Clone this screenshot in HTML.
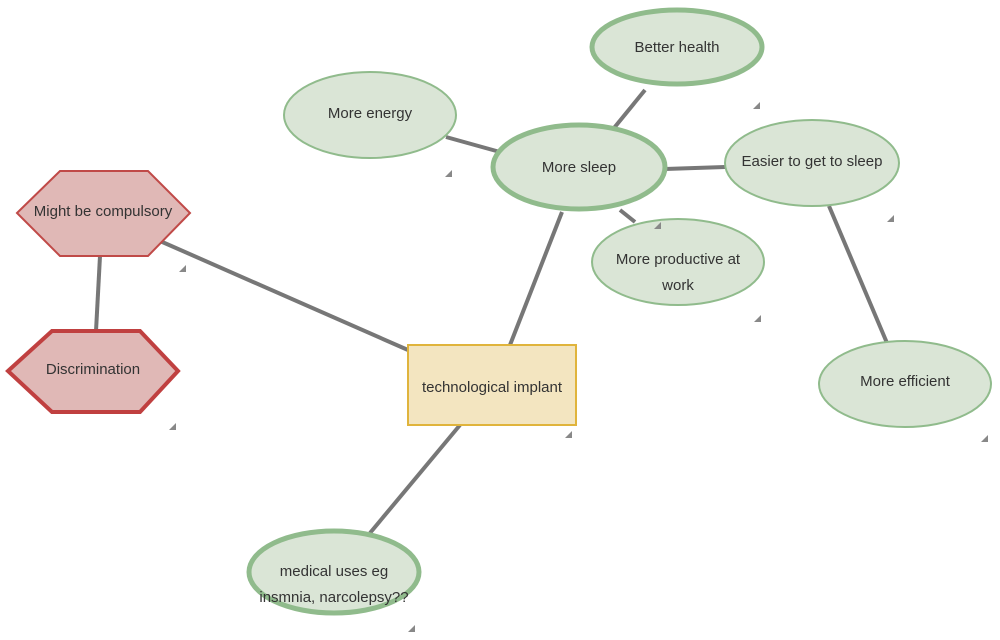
<!DOCTYPE html>
<html><head><meta charset="utf-8"><style>body{margin:0;background:#fff}svg{display:block}text{font-family:"Liberation Sans",sans-serif;font-size:15px;fill:#333;text-anchor:middle}</style></head><body>
<svg width="1000" height="640" viewBox="0 0 1000 640">
<g stroke="#777" stroke-width="4">
<line x1="160" y1="241" x2="408" y2="350"/>
<line x1="100" y1="256" x2="96" y2="331"/>
<line x1="510" y1="345" x2="562" y2="212"/>
<line x1="460" y1="425" x2="370" y2="533"/>
<line x1="446" y1="137" x2="500" y2="152"/>
<line x1="614" y1="128" x2="645" y2="90"/>
<line x1="665" y1="169" x2="725" y2="167"/>
<line x1="620" y1="210" x2="635" y2="222"/>
<line x1="829" y1="206" x2="887" y2="343"/>
</g>
<g fill="#dae5d6" stroke="#90bb8c">
<ellipse cx="677" cy="47" rx="85" ry="37" stroke-width="5"/>
<ellipse cx="370" cy="115" rx="86" ry="43" stroke-width="2"/>
<ellipse cx="579" cy="167" rx="86" ry="42" stroke-width="5"/>
<ellipse cx="812" cy="163" rx="87" ry="43" stroke-width="2"/>
<ellipse cx="678" cy="262" rx="86" ry="43" stroke-width="2"/>
<ellipse cx="905" cy="384" rx="86" ry="43" stroke-width="2"/>
<ellipse cx="334" cy="572" rx="85" ry="41" stroke-width="5"/>
</g>
<rect x="408" y="345" width="168" height="80" fill="#f3e5c0" stroke="#e0b43c" stroke-width="2"/>
<polygon points="17,213 60,171 148,171 190,213 148,256 60,256" fill="#e0b8b6" stroke="#c04a48" stroke-width="2"/>
<polygon points="8,371 52,331 140,331 178,371 140,412 52,412" fill="#e0b8b6" stroke="#c04040" stroke-width="4"/>
<g fill="#888">
<polygon points="760,102 760,109 753,109"/><polygon points="452,170 452,177 445,177"/>
<polygon points="894,215 894,222 887,222"/><polygon points="186,265 186,272 179,272"/>
<polygon points="176,423 176,430 169,430"/><polygon points="572,431 572,438 565,438"/>
<polygon points="761,315 761,322 754,322"/><polygon points="988,435 988,442 981,442"/>
<polygon points="415,625 415,632 408,632"/><polygon points="661,222 661,229 654,229"/>
</g>
<text x="677" y="52">Better health</text>
<text x="370" y="118">More energy</text>
<text x="579" y="172">More sleep</text>
<text x="812" y="166">Easier to get to sleep</text>
<text x="678" y="264">More productive at</text>
<text x="678" y="290">work</text>
<text x="905" y="386">More efficient</text>
<text x="334" y="576">medical uses eg</text>
<text x="334" y="602">insmnia, narcolepsy??</text>
<text x="492" y="392">technological implant</text>
<text x="103" y="216">Might be compulsory</text>
<text x="93" y="374">Discrimination</text>
</svg>
</body></html>
